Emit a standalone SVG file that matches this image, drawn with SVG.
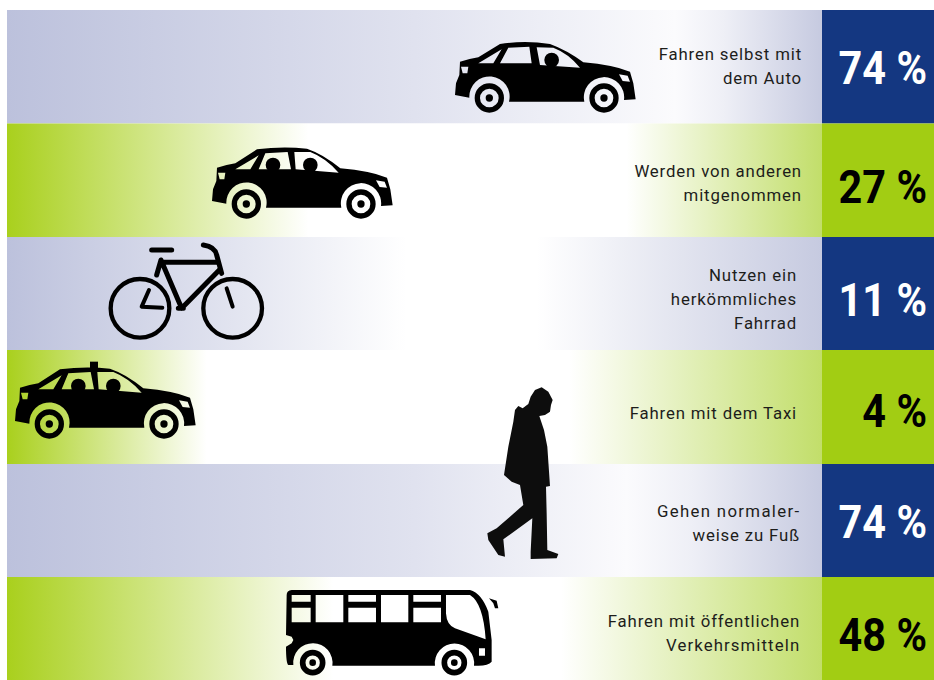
<svg xmlns="http://www.w3.org/2000/svg" xmlns:xlink="http://www.w3.org/1999/xlink" width="934" height="680" viewBox="0 0 934 680">
<style>
.lbl{font-family:"Roboto","Liberation Sans",sans-serif;font-size:16.8px;letter-spacing:.85px;fill:#1d1d1b;text-anchor:end}
.pct{font-family:"Roboto","Liberation Sans",sans-serif;font-size:46px;font-weight:700;text-anchor:end}
.blue{fill:#143781}.green{fill:#a2cd13}
.ink{fill:#000;fill-rule:evenodd}
.w{fill:none;stroke:#000}
.b{fill:none;stroke:#000;stroke-linecap:round;stroke-linejoin:round}
</style>
<defs>
<linearGradient id="g1" gradientUnits="userSpaceOnUse" x1="7" x2="822" y1="0" y2="0"><stop offset="0" stop-color="#bcc1dc"/><stop offset=".5" stop-color="#e0e2ef"/><stop offset=".82" stop-color="#fbfbfd"/><stop offset=".88" stop-color="#eeeff6"/><stop offset="1" stop-color="#c6cae0"/></linearGradient>
<linearGradient id="g2" gradientUnits="userSpaceOnUse" x1="7" x2="822" y1="0" y2="0"><stop offset="0" stop-color="#a9d01d"/><stop offset=".37" stop-color="#fff"/><stop offset=".76" stop-color="#fff"/><stop offset="1" stop-color="#c2de6a"/></linearGradient>
<linearGradient id="g3" gradientUnits="userSpaceOnUse" x1="7" x2="822" y1="0" y2="0"><stop offset="0" stop-color="#bcc1dc"/><stop offset=".49" stop-color="#fff"/><stop offset=".65" stop-color="#fff"/><stop offset="1" stop-color="#c6cae0"/></linearGradient>
<linearGradient id="g4" gradientUnits="userSpaceOnUse" x1="7" x2="822" y1="0" y2="0"><stop offset="0" stop-color="#a9d01d"/><stop offset=".245" stop-color="#fff"/><stop offset=".69" stop-color="#fff"/><stop offset="1" stop-color="#c2de6a"/></linearGradient>
<linearGradient id="g5" gradientUnits="userSpaceOnUse" x1="7" x2="822" y1="0" y2="0"><stop offset="0" stop-color="#bcc1dc"/><stop offset=".5" stop-color="#e0e2ef"/><stop offset=".76" stop-color="#fbfbfd"/><stop offset=".84" stop-color="#eeeff6"/><stop offset="1" stop-color="#c6cae0"/></linearGradient>
<linearGradient id="g6" gradientUnits="userSpaceOnUse" x1="7" x2="822" y1="0" y2="0"><stop offset="0" stop-color="#a9d01d"/><stop offset=".4" stop-color="#fff"/><stop offset=".68" stop-color="#fff"/><stop offset="1" stop-color="#c2de6a"/></linearGradient>
<g id="wheels">
<circle class="w" cx="148" cy="234" r="36" stroke-width="16"/><circle cx="148" cy="234" r="11"/>
<circle class="w" cx="492" cy="234" r="36" stroke-width="16"/><circle cx="492" cy="234" r="11"/>
</g>
<path id="car1" class="ink" d="M45 225L48 190L58 165L60 125Q90 116 115 112L180 72Q255 60 330 72Q380 90 430 127Q520 135 570 155L580 190L587 238L552 240A60.5 60.5 0 1 0 433 245L207 245A60.5 60.5 0 1 0 88 233ZM63 140L85 140L82 160L68 160ZM537 163L563 167L570 185L548 183ZM115 130L185 88L160 130ZM180 130L205 83L268 80L275 130ZM290 82L340 83Q385 100 420 143L300 135Z"/>
<path id="car2" class="ink" d="M45 225L48 190L58 165L60 125Q90 116 115 112L180 70Q255 60 330 68Q380 85 430 127Q520 135 570 155L580 190L587 238L552 240A60.5 60.5 0 1 0 433 245L207 245A60.5 60.5 0 1 0 88 233ZM63 140L85 140L82 160L68 160ZM537 163L563 167L570 185L548 183ZM115 130L185 88L160 130ZM185 130L205 82L272 78L282 130ZM292 78L340 78Q385 95 425 140L296 130Z"/>
</defs>
<rect width="934" height="680" fill="#fff"/>
<g id="bands">
<rect x="7" y="10" width="815" height="113.5" fill="url(#g1)"/>
<rect x="7" y="123.5" width="815" height="113.5" fill="url(#g2)"/>
<rect x="7" y="237" width="815" height="113" fill="url(#g3)"/>
<rect x="7" y="350" width="815" height="114" fill="url(#g4)"/>
<rect x="7" y="464" width="815" height="113" fill="url(#g5)"/>
<rect x="7" y="577" width="815" height="103" fill="url(#g6)"/>
<rect class="blue" x="822" y="10" width="112" height="113.5"/>
<rect class="green" x="822" y="123.5" width="112" height="113.5"/>
<rect class="blue" x="822" y="237" width="112" height="113"/>
<rect class="green" x="822" y="350" width="112" height="114"/>
<rect class="blue" x="822" y="464" width="112" height="113"/>
<rect class="green" x="822" y="577" width="112" height="103"/>
</g>
<g id="node-auto">
<g transform="translate(440 20) scale(.3333)"><use href="#car1"/><use href="#wheels"/><circle cx="335" cy="120" r="22"/></g>
<text class="lbl" x="802" y="60">Fahren selbst mit</text><text class="lbl" x="802" y="84">dem Auto</text>
<text class="pct" transform="translate(927 84) scale(.9 1)" fill="#fff">74 %</text>
</g>
<g id="node-mitfahrer">
<g transform="translate(197 126) scale(.3333)"><use href="#car2"/><use href="#wheels"/><circle cx="228" cy="117" r="22"/><circle cx="340" cy="117" r="22"/></g>
<text class="lbl" x="802" y="177">Werden von anderen</text><text class="lbl" x="802" y="201">mitgenommen</text>
<text class="pct" transform="translate(927 203) scale(.9 1)" fill="#000">27 %</text>
</g>
<g id="node-fahrrad">
<g transform="translate(100 235) scale(.3333)">
<circle class="w" cx="120" cy="220" r="88" stroke-width="13"/><circle class="w" cx="398" cy="220" r="88" stroke-width="13"/>
<g class="b" stroke-width="15"><path d="M155 45H215"/><path d="M170 120L183 75L245 220L358 105M186 82H352M235 220H250"/><path d="M310 30Q345 35 350 60L365 115"/></g>
<g class="b" stroke-width="12"><path d="M147 165L125 215L187 218"/><path d="M380 160L398 215"/></g>
</g>
<text class="lbl" x="797" y="281">Nutzen ein</text><text class="lbl" x="797" y="305">herkömmliches</text><text class="lbl" x="797" y="329">Fahrrad</text>
<text class="pct" transform="translate(927 316) scale(.9 1)" fill="#fff">11 %</text>
</g>
<g id="node-taxi">
<g transform="translate(0 346) scale(.3333)"><use href="#car2"/><use href="#wheels"/><circle cx="235" cy="120" r="22"/><circle cx="340" cy="120" r="22"/><rect x="270" y="47" width="24" height="30"/></g>
<text class="lbl" x="797" y="419">Fahren mit dem Taxi</text>
<text class="pct" transform="translate(927 427) scale(.9 1)" fill="#000">4 %</text>
</g>
<g id="node-fussgaenger">
<path transform="translate(470 380) scale(.3333)" d="M215 22L235 35L248 60L243 75L240 95L225 105L208 108L222 150L232 200L240 318L228 320L230 400L232 510L265 522L260 535L182 537L182 515L187 415L100 478L105 530L85 525L55 480L52 460L80 445L160 375L150 315L125 305L102 285L115 200L130 125L135 90L145 78L158 85L175 72L182 50L195 30Z" fill="#0d0d0d"/>
<text class="lbl" x="800" y="517" textLength="143">Gehen normaler-</text><text class="lbl" x="800" y="541">weise zu Fuß</text>
<text class="pct" transform="translate(927 538) scale(.9 1)" fill="#fff">74 %</text>
</g>
<g id="node-oepnv">
<g transform="translate(275 580) scale(.3333)">
<path class="ink" d="M35 45Q35 32 50 30L585 30Q620 40 640 95L650 180L650 245Q640 257 610 257L597 257A59 59 0 1 0 480 257L172 257A59 59 0 1 0 55 255L40 255Q33 250 33 200L50 190L55 180L50 170L33 165ZM50 45H107V65H50ZM50 83H107V127H50ZM122 45H205V127H122ZM220 45H303V65H220ZM220 83H303V127H220ZM318 45H400V127H318ZM415 45H498V65H415ZM415 83H498V127H415ZM513 45L585 45Q625 70 632 178L540 145Q515 135 513 100ZM612 205H630V227H612Z"/>
<path d="M642 55L665 62L670 85L660 85L655 70Z"/>
<circle class="w" cx="113" cy="248" r="30" stroke-width="17"/><circle cx="113" cy="248" r="10"/>
<circle class="w" cx="538" cy="248" r="30" stroke-width="17"/><circle cx="538" cy="248" r="10"/>
</g>
<text class="lbl" x="800" y="627">Fahren mit öffentlichen</text><text class="lbl" x="800" y="651" textLength="134">Verkehrsmitteln</text>
<text class="pct" transform="translate(927 651) scale(.9 1)" fill="#000">48 %</text>
</g>
<g id="connectors"/>
</svg>
